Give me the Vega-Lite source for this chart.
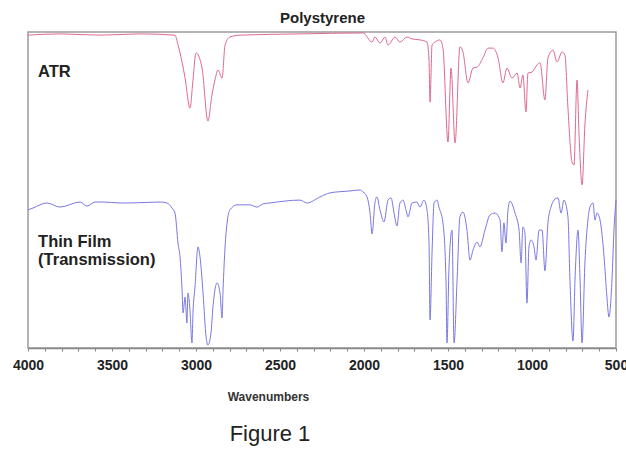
{
  "$schema": "https://vega.github.io/schema/vega-lite/v6.json",
  "autosize": {"type": "none"},
  "width": 588,
  "height": 316,
  "padding": {"left": 28, "top": 32, "right": 10, "bottom": 102},
  "background": "white",
  "view": {"stroke": "#9a9a9a", "strokeWidth": 1.5},
  "title": {"text": "Figure 1", "orient": "bottom", "anchor": "middle", "dx": -52, "offset": 22, "font": "Liberation Sans", "fontSize": 22, "fontWeight": "normal", "color": "#222222"},
  "datasets": {
    "atr": [
      {"w": 4000, "t": 99.0}, {"w": 3810, "t": 99.4}, {"w": 3571, "t": 99.0}, {"w": 3333, "t": 99.4}, {"w": 3125, "t": 99.0},
      {"w": 3107, "t": 95.9}, {"w": 3083, "t": 90.5}, {"w": 3065, "t": 85.4}, {"w": 3036, "t": 75.9}, {"w": 3018, "t": 84.8},
      {"w": 3000, "t": 93.4}, {"w": 2964, "t": 88.6}, {"w": 2929, "t": 71.8}, {"w": 2905, "t": 80.1}, {"w": 2887, "t": 84.8},
      {"w": 2869, "t": 88.0}, {"w": 2845, "t": 85.4}, {"w": 2827, "t": 95.9}, {"w": 2798, "t": 98.4}, {"w": 2738, "t": 99.0},
      {"w": 2381, "t": 99.4}, {"w": 2006, "t": 99.7}, {"w": 1952, "t": 96.8}, {"w": 1935, "t": 98.4}, {"w": 1905, "t": 96.5},
      {"w": 1875, "t": 98.4}, {"w": 1857, "t": 95.9}, {"w": 1815, "t": 98.4}, {"w": 1786, "t": 96.8}, {"w": 1744, "t": 98.4},
      {"w": 1714, "t": 97.8}, {"w": 1667, "t": 97.5}, {"w": 1625, "t": 96.8}, {"w": 1613, "t": 91.1}, {"w": 1607, "t": 77.8},
      {"w": 1595, "t": 95.9}, {"w": 1577, "t": 96.8}, {"w": 1548, "t": 97.5}, {"w": 1530, "t": 94.9}, {"w": 1500, "t": 65.2},
      {"w": 1482, "t": 88.6}, {"w": 1458, "t": 64.9}, {"w": 1429, "t": 95.3}, {"w": 1411, "t": 93.7}, {"w": 1381, "t": 83.9},
      {"w": 1351, "t": 88.6}, {"w": 1327, "t": 88.9}, {"w": 1292, "t": 91.8}, {"w": 1262, "t": 94.9}, {"w": 1232, "t": 94.9},
      {"w": 1202, "t": 91.8}, {"w": 1173, "t": 83.9}, {"w": 1149, "t": 88.6}, {"w": 1119, "t": 85.4}, {"w": 1089, "t": 87.0},
      {"w": 1071, "t": 82.3}, {"w": 1054, "t": 86.4}, {"w": 1036, "t": 74.7}, {"w": 1024, "t": 87.0}, {"w": 1000, "t": 87.3},
      {"w": 970, "t": 89.6}, {"w": 952, "t": 90.2}, {"w": 923, "t": 78.5}, {"w": 905, "t": 91.8}, {"w": 875, "t": 94.3},
      {"w": 851, "t": 90.5}, {"w": 821, "t": 93.7}, {"w": 804, "t": 92.7}, {"w": 786, "t": 75.9}, {"w": 762, "t": 58.9},
      {"w": 750, "t": 57.9}, {"w": 732, "t": 84.8}, {"w": 720, "t": 67.4}, {"w": 702, "t": 51.6}, {"w": 685, "t": 70.6},
      {"w": 667, "t": 81.6}
    ],
    "film": [
      {"w": 4000, "t": 43.7}, {"w": 3970, "t": 44.3}, {"w": 3887, "t": 45.9}, {"w": 3810, "t": 44.6}, {"w": 3690, "t": 46.2},
      {"w": 3649, "t": 44.9}, {"w": 3601, "t": 46.2}, {"w": 3554, "t": 46.2}, {"w": 3452, "t": 45.9}, {"w": 3393, "t": 45.9},
      {"w": 3214, "t": 46.2}, {"w": 3173, "t": 45.9}, {"w": 3143, "t": 44.3}, {"w": 3125, "t": 42.7}, {"w": 3107, "t": 33.2},
      {"w": 3095, "t": 28.8}, {"w": 3083, "t": 18.4}, {"w": 3077, "t": 11.1}, {"w": 3065, "t": 16.1}, {"w": 3054, "t": 7.9},
      {"w": 3048, "t": 17.4}, {"w": 3036, "t": 12.0}, {"w": 3024, "t": 1.6}, {"w": 3018, "t": 11.1}, {"w": 3006, "t": 19.3},
      {"w": 2988, "t": 32.0}, {"w": 2976, "t": 28.8}, {"w": 2958, "t": 17.4}, {"w": 2940, "t": 3.5}, {"w": 2929, "t": 0.9},
      {"w": 2911, "t": 4.7}, {"w": 2899, "t": 13.0}, {"w": 2875, "t": 20.6}, {"w": 2857, "t": 17.4}, {"w": 2845, "t": 9.5},
      {"w": 2839, "t": 18.4}, {"w": 2827, "t": 32.0}, {"w": 2815, "t": 39.6}, {"w": 2798, "t": 43.7}, {"w": 2756, "t": 45.3},
      {"w": 2679, "t": 45.3}, {"w": 2637, "t": 44.6}, {"w": 2601, "t": 45.6}, {"w": 2560, "t": 45.9}, {"w": 2381, "t": 46.8},
      {"w": 2339, "t": 45.9}, {"w": 2262, "t": 47.8}, {"w": 2202, "t": 49.1}, {"w": 2083, "t": 49.7}, {"w": 2024, "t": 50.0},
      {"w": 2006, "t": 49.4}, {"w": 1982, "t": 47.8}, {"w": 1964, "t": 42.7}, {"w": 1952, "t": 36.1}, {"w": 1935, "t": 45.9},
      {"w": 1923, "t": 47.8}, {"w": 1905, "t": 43.7}, {"w": 1881, "t": 39.9}, {"w": 1857, "t": 46.8}, {"w": 1839, "t": 47.5},
      {"w": 1821, "t": 42.7}, {"w": 1804, "t": 38.6}, {"w": 1786, "t": 45.9}, {"w": 1768, "t": 46.8}, {"w": 1750, "t": 43.7},
      {"w": 1738, "t": 41.5}, {"w": 1714, "t": 45.9}, {"w": 1685, "t": 46.2}, {"w": 1667, "t": 44.6}, {"w": 1643, "t": 46.8},
      {"w": 1625, "t": 43.7}, {"w": 1613, "t": 33.2}, {"w": 1607, "t": 8.9}, {"w": 1595, "t": 30.1}, {"w": 1583, "t": 45.9},
      {"w": 1565, "t": 46.8}, {"w": 1554, "t": 44.6}, {"w": 1530, "t": 39.6}, {"w": 1512, "t": 21.5}, {"w": 1506, "t": 1.6},
      {"w": 1494, "t": 25.6}, {"w": 1476, "t": 37.3}, {"w": 1464, "t": 1.6}, {"w": 1446, "t": 21.5}, {"w": 1429, "t": 41.5},
      {"w": 1411, "t": 43.0}, {"w": 1387, "t": 37.3}, {"w": 1369, "t": 27.8}, {"w": 1351, "t": 31.0}, {"w": 1327, "t": 33.5},
      {"w": 1310, "t": 32.0}, {"w": 1280, "t": 37.3}, {"w": 1250, "t": 42.1}, {"w": 1220, "t": 42.7}, {"w": 1190, "t": 40.5},
      {"w": 1179, "t": 30.4}, {"w": 1167, "t": 39.6}, {"w": 1155, "t": 33.2}, {"w": 1143, "t": 43.7}, {"w": 1131, "t": 46.5},
      {"w": 1101, "t": 42.7}, {"w": 1077, "t": 37.3}, {"w": 1065, "t": 26.9}, {"w": 1054, "t": 38.3}, {"w": 1042, "t": 36.4},
      {"w": 1030, "t": 14.2}, {"w": 1018, "t": 32.0}, {"w": 1006, "t": 34.2}, {"w": 988, "t": 32.0}, {"w": 976, "t": 27.8},
      {"w": 958, "t": 37.3}, {"w": 940, "t": 37.3}, {"w": 923, "t": 24.4}, {"w": 905, "t": 39.6}, {"w": 887, "t": 44.6},
      {"w": 869, "t": 46.8}, {"w": 845, "t": 47.5}, {"w": 827, "t": 42.7}, {"w": 810, "t": 46.8}, {"w": 786, "t": 41.5},
      {"w": 774, "t": 21.5}, {"w": 756, "t": 2.2}, {"w": 744, "t": 21.5}, {"w": 726, "t": 37.3}, {"w": 714, "t": 21.5},
      {"w": 702, "t": 1.6}, {"w": 685, "t": 26.9}, {"w": 667, "t": 40.5}, {"w": 655, "t": 44.6}, {"w": 637, "t": 45.9},
      {"w": 625, "t": 40.5}, {"w": 613, "t": 42.7}, {"w": 595, "t": 40.5}, {"w": 571, "t": 28.8}, {"w": 554, "t": 16.1},
      {"w": 542, "t": 9.8}, {"w": 524, "t": 21.5}, {"w": 512, "t": 37.3}, {"w": 500, "t": 46.8}
    ],
    "labels": [
      {"w": 3940, "t": 87.3, "label": "ATR"},
      {"w": 3940, "t": 33.5, "label": "Thin Film"},
      {"w": 3940, "t": 27.8, "label": "(Transmission)"}
    ]
  },
  "resolve": {"axis": {"x": "independent"}},
  "layer": [
    {
      "data": {"name": "atr"},
      "mark": {"type": "line", "color": "#de6a8c", "strokeWidth": 1, "interpolate": "monotone"},
      "encoding": {
        "x": {"field": "w", "type": "quantitative",
          "scale": {"domain": [4000, 500], "nice": false, "zero": false},
          "axis": {
            "orient": "bottom",
            "values": [4000,3900,3800,3700,3600,3500,3400,3300,3200,3100,3000,2900,2800,2700,2600,2500,2400,2300,2200,2100,2000,1900,1800,1700,1600,1500,1400,1300,1200,1100,1000,900,800,700,600,500],
            "labelExpr": "datum.value % 500 === 0 ? datum.value : ''",
            "labelOverlap": false, "labelBound": false, "labelFlush": false,
            "labelFont": "Liberation Sans", "labelFontWeight": "bold", "labelFontSize": 14, "labelColor": "#222222", "labelPadding": 7,
            "tickSize": 3, "tickColor": "#888888", "domainColor": "#888888", "domainWidth": 1.5, "grid": false,
            "title": "Wavenumbers", "titleFont": "Liberation Sans", "titleFontWeight": "bold", "titleFontSize": 12, "titleColor": "#333333",
            "titlePadding": 19, "titleX": 240
          }
        },
        "y": {"field": "t", "type": "quantitative", "scale": {"domain": [0, 100], "nice": false, "zero": false}, "axis": null}
      }
    },
    {
      "data": {"name": "film"},
      "mark": {"type": "line", "color": "#7a78e2", "strokeWidth": 1, "interpolate": "monotone"},
      "encoding": {
        "x": {"field": "w", "type": "quantitative", "axis": null},
        "y": {"field": "t", "type": "quantitative", "axis": null}
      }
    },
    {
      "data": {"name": "labels"},
      "mark": {"type": "text", "align": "left", "baseline": "middle", "font": "Liberation Sans", "fontWeight": "bold", "fontSize": 16.5, "color": "#222222"},
      "encoding": {
        "x": {"field": "w", "type": "quantitative",
          "axis": {"orient": "top", "labels": false, "ticks": false, "domain": false, "grid": false,
            "title": "Polystyrene", "titleFont": "Liberation Sans", "titleFontWeight": "bold", "titleFontSize": 15, "titleColor": "#222222", "titlePadding": 7}
        },
        "y": {"field": "t", "type": "quantitative", "axis": null},
        "text": {"field": "label"}
      }
    }
  ]
}
